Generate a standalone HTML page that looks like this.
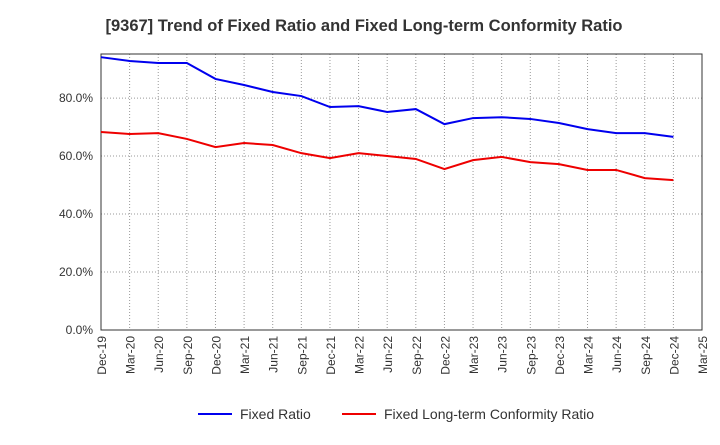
<!DOCTYPE html>
<html><head><meta charset="utf-8"><style>
body{margin:0;background:#fff;font-family:"Liberation Sans",sans-serif}
</style></head><body>
<svg id="chart" width="720" height="440" xmlns="http://www.w3.org/2000/svg">
<text x="364" y="31" text-anchor="middle" font-size="16.5" font-weight="bold" fill="#333">[9367]  Trend of Fixed Ratio and Fixed Long-term Conformity Ratio</text>
<g id="grid"></g><g id="axes"></g><g id="series"></g>
<g>
<line x1="198" y1="414" x2="232" y2="414" stroke="#0000ee" stroke-width="2"/>
<text x="240" y="419" font-size="14" fill="#333">Fixed Ratio</text>
<line x1="342" y1="414" x2="376" y2="414" stroke="#ee0000" stroke-width="2"/>
<text x="384" y="419" font-size="14" fill="#333">Fixed Long-term Conformity Ratio</text>
</g>
</svg>
<script>
const categories=["Dec-19","Mar-20","Jun-20","Sep-20","Dec-20","Mar-21","Jun-21","Sep-21","Dec-21","Mar-22","Jun-22","Sep-22","Dec-22","Mar-23","Jun-23","Sep-23","Dec-23","Mar-24","Jun-24","Sep-24","Dec-24","Mar-25"];
const fixedRatio=[94.1,92.8,92.1,92.1,86.6,84.5,82.1,80.7,76.9,77.2,75.2,76.2,71.0,73.1,73.4,72.8,71.4,69.3,67.9,67.9,66.6];
const conformityRatio=[68.3,67.6,67.9,65.9,63.1,64.5,63.8,61.0,59.3,61.0,60.0,59.0,55.5,58.6,59.7,57.9,57.2,55.2,55.2,52.4,51.7];
const yTicks=[0,20,40,60,80];
const yTickLabels=["0.0%","20.0%","40.0%","60.0%","80.0%"];
const L=101,R=702,T=54,B=330,yMax=95.2;
const ns="http://www.w3.org/2000/svg";
const xs=i=>L+(R-L)*i/(categories.length-1);
const ys=v=>B-(B-T)*v/yMax;
function mk(p,tag,attrs){const e=document.createElementNS(ns,tag);for(const k in attrs)e.setAttribute(k,attrs[k]);p.appendChild(e);return e;}
const grid=document.getElementById('grid'),axes=document.getElementById('axes'),series=document.getElementById('series');
categories.forEach((c,i)=>{
 const g=mk(grid,'line',{x1:xs(i),x2:xs(i),y1:T,y2:B,stroke:'#999','stroke-dasharray':'1,2','stroke-width':1});
 
 
 const t=mk(axes,'text',{transform:`translate(${xs(i)+5},${B+6}) rotate(-90)`,'text-anchor':'end','font-size':12,fill:'#333'});
 t.textContent=c;
 
 
});
yTicks.forEach((v,i)=>{
 const g=mk(grid,'line',{x1:L,x2:R,y1:ys(v),y2:ys(v),stroke:'#999','stroke-dasharray':'1,2','stroke-width':1});
 
 
 const t=mk(axes,'text',{x:L-8,y:ys(v)+4,'text-anchor':'end','font-size':12,fill:'#333'});
 t.textContent=yTickLabels[i];
 
 
});
const fr=mk(axes,'rect',{x:L,y:T,width:R-L,height:B-T,fill:'none',stroke:'#333','stroke-width':1});


const l1=mk(series,'polyline',{points:fixedRatio.map((v,i)=>xs(i)+','+ys(v)).join(' '),fill:'none',stroke:'#0000ee','stroke-width':2});


const l2=mk(series,'polyline',{points:conformityRatio.map((v,i)=>xs(i)+','+ys(v)).join(' '),fill:'none',stroke:'#ee0000','stroke-width':2});


</script>
</body></html>
